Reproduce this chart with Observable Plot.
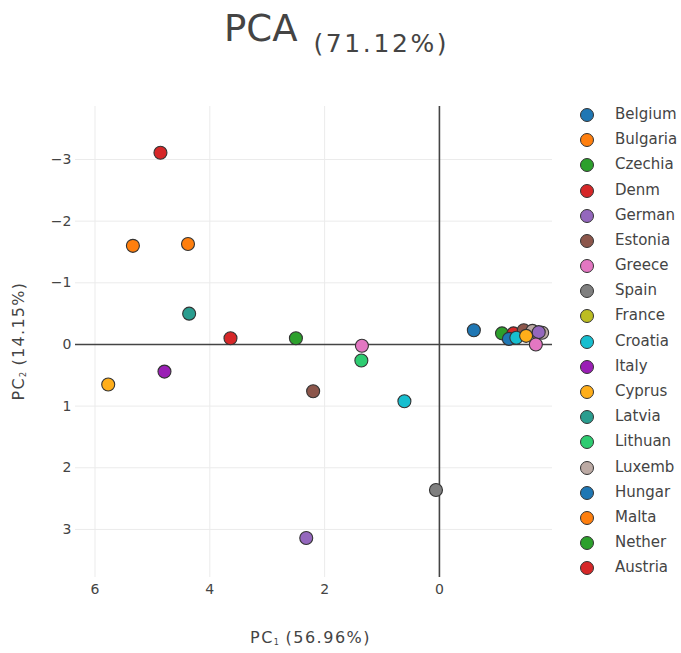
<!DOCTYPE html>
<html>
<head>
<meta charset="utf-8">
<script src="https://cdn.jsdelivr.net/npm/d3@7"></script>
<script src="https://cdn.jsdelivr.net/npm/@observablehq/plot@0.6"></script>
<style>
  html, body { margin: 0; padding: 0; background: #fff; }
  #wrap { position: relative; width: 681px; height: 653px; font-family: "DejaVu Sans", Verdana, sans-serif; color: #444; }
  #chart { position: absolute; left: 0; top: 0; }
  .title { position: absolute; left: 224px; top: 7px; white-space: nowrap; }
  .title .main { font-size: 37px; }
  .title .sub { font-size: 25px; letter-spacing: 2.6px; position: relative; top: 11px; margin-left: 16px; }
  .xlab { position: absolute; left: 250px; top: 628px; font-size: 16px; letter-spacing: 1.5px; white-space: nowrap; }
  .ylab { position: absolute; left: 18px; top: 341px; font-size: 16px; letter-spacing: 1.3px; white-space: nowrap; transform: translate(-50%, -50%) rotate(-90deg); }
  sub { font-size: 8px; vertical-align: -2px; letter-spacing: 0; }
  .leg { position: absolute; left: 580px; font-size: 15px; white-space: nowrap; }
  .leg .sw { position: absolute; left: 0; top: -7px; width: 12px; height: 12px; border-radius: 50%; border: 1px solid #333; }
  .leg .tx { position: absolute; left: 35px; top: -10px; }
</style>
</head>
<body>
<div id="wrap">
  <div id="chart"></div>
  <div class="title"><span class="main">PCA</span><span class="sub">(71.12%)</span></div>
  <div class="xlab">PC<sub>1</sub> (56.96%)</div>
  <div class="ylab">PC<sub>2</sub> (14.15%)</div>
  <div id="legend"></div>
</div>
<script>
// Legend order of countries and their colours
const countries = ["Belgium","Bulgaria","Czechia","Denm","German","Estonia","Greece","Spain","France","Croatia","Italy","Cyprus","Latvia","Lithuan","Luxemb","Hungar","Malta","Nether","Austria"];
const colors = ["#1f77b4","#ff7f0e","#2ca02c","#d62728","#9467bd","#8c564b","#e377c2","#7f7f7f","#bcbd22","#17becf","#9a1fb5","#ffae1a","#2a9d8f","#2ecc71","#bcaaa4","#1f77b4","#ff7f0e","#2ca02c","#d62728"];

// Points, listed in drawing order
const pointCountry = ["Belgium","Bulgaria","Malta","Denm","Austria","Latvia","Italy","Cyprus","Nether","Estonia","German","Greece","Lithuan","Croatia","Spain",
                      "Czechia","Denm","Estonia","Luxemb","Luxemb","Hungar","Croatia","Cyprus","German","Greece"];
const pc1 = [-0.60, 5.34, 4.38, 4.86, 3.64, 4.36, 4.79, 5.77, 2.50, 2.20, 2.32, 1.35, 1.36, 0.61, 0.06,
             -1.09, -1.29, -1.47, -1.62, -1.79, -1.21, -1.34, -1.51, -1.73, -1.68];
const pc2 = [-0.23, -1.60, -1.63, -3.11, -0.10, -0.50, 0.44, 0.65, -0.10, 0.76, 3.14, 0.02, 0.26, 0.92, 2.36,
             -0.18, -0.18, -0.23, -0.22, -0.19, -0.09, -0.11, -0.14, -0.20, 0.00];

const xTicks = [6, 4, 2, 0];
const yTicks = [-3, -2, -1, 0, 1, 2, 3];

const colorOf = new Map(countries.map((c, i) => [c, colors[i]]));
const points = pointCountry.map((c, i) => ({country: c, pc1: pc1[i], pc2: pc2[i], color: colorOf.get(c)}));

const fmt = d => (d < 0 ? "\u2212" + Math.abs(d) : String(d));

const chart = Plot.plot({
  width: 681,
  height: 653,
  marginLeft: 75,
  marginRight: 129,
  marginTop: 106,
  marginBottom: 76,
  style: {fontFamily: "DejaVu Sans, Verdana, sans-serif", fontSize: "14px", color: "#444", background: "transparent", overflow: "visible"},
  x: {domain: [6.34, -1.97], label: null},
  y: {domain: [3.78, -3.86], label: null},
  marks: [
    Plot.gridX(xTicks.filter(d => d !== 0), {stroke: "#ebebeb", strokeOpacity: 1, strokeWidth: 1}),
    Plot.gridY(yTicks.filter(d => d !== 0), {stroke: "#ebebeb", strokeOpacity: 1, strokeWidth: 1}),
    Plot.axisX(xTicks, {tickSize: 0, tickPadding: 7, tickFormat: fmt, fontSize: 14, fill: "#444", label: null}),
    Plot.axisY(yTicks, {tickSize: 0, tickPadding: 4, tickFormat: fmt, fontSize: 14, fill: "#444", label: null}),
    Plot.ruleX([0], {stroke: "#444", strokeWidth: 1.6}),
    Plot.ruleY([0], {stroke: "#444", strokeWidth: 1.6}),
    Plot.dot(points, {x: "pc1", y: "pc2", fill: "color", r: 6.5, stroke: "#333", strokeWidth: 1.1, fillOpacity: 1})
  ]
});
document.getElementById("chart").appendChild(chart);

// Legend
const leg = document.getElementById("legend");
countries.forEach((c, i) => {
  const row = document.createElement("div");
  row.className = "leg";
  row.style.top = (115 + i * 25.18) + "px";
  const sw = document.createElement("span");
  sw.className = "sw";
  sw.style.background = colors[i];
  const tx = document.createElement("span");
  tx.className = "tx";
  tx.textContent = c;
  row.appendChild(sw);
  row.appendChild(tx);
  leg.appendChild(row);
});
</script>
</body>
</html>
